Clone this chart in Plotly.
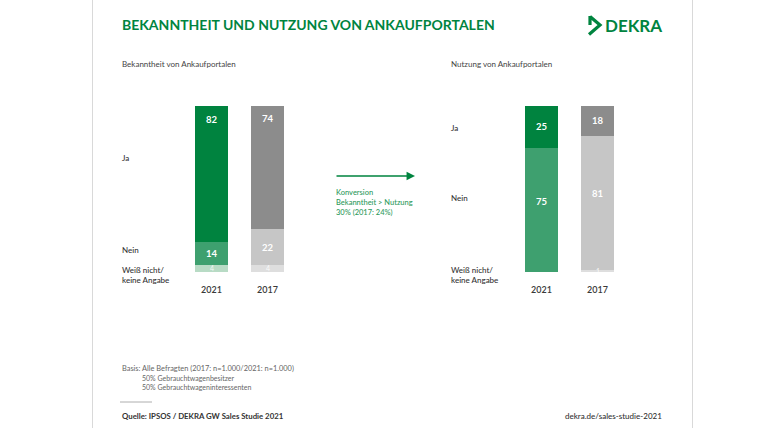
import plotly.graph_objects as go

W, H = 768, 428

years = ["2021", "2017"]
segments = ["Weiß nicht/keine Angabe", "Nein", "Ja"]

# Bekanntheit (left) values per segment [2021, 2017]
bek_weiss = [4, 4]
bek_nein = [14, 22]
bek_ja = [82, 74]

# Nutzung (right) values per segment [2021, 2017]
nut_weiss = [0, 1]
nut_nein = [75, 81]
nut_ja = [25, 18]

GREEN = "#00843F"
colors = {
    "Ja": ["#00833F", "#8C8C8C"],
    "Nein": ["#3EA06F", "#C6C6C6"],
    "Weiß nicht/keine Angabe": ["#B8DBC5", "#DEDEDE"],
}

FONT = "Lato"


def px(x):
    return x / W


def py(y):
    return 1 - y / H


fig = go.Figure()

charts = [
    ("x", "y", {"Weiß nicht/keine Angabe": bek_weiss, "Nein": bek_nein, "Ja": bek_ja}),
    ("x2", "y2", {"Weiß nicht/keine Angabe": nut_weiss, "Nein": nut_nein, "Ja": nut_ja}),
]

for xa, ya, data in charts:
    for seg in segments:
        fig.add_trace(go.Bar(
            x=years, y=data[seg], name=seg,
            marker=dict(color=colors[seg], line=dict(width=0)),
            xaxis=xa, yaxis=ya, showlegend=False, hoverinfo="skip",
        ))

# label vertical placement inside segments (fraction of segment measured from its bottom)
label_frac = {
    ("x", "Ja"): 0.9, ("x", "Nein"): 0.5, ("x", "Weiß nicht/keine Angabe"): 0.55,
    ("x2", "Ja"): 0.5, ("x2", "Nein"): 0.57, ("x2", "Weiß nicht/keine Angabe"): 0.6,
}
annotations = []
for xa, ya, data in charts:
    base = [0, 0]
    for seg in segments:
        vals = data[seg]
        for i, yr in enumerate(years):
            v = vals[i]
            if v > 0:
                small = v < 6
                annotations.append(dict(
                    x=i, y=base[i] + v * label_frac[(xa, seg)],
                    xref=xa, yref=ya, text=str(v), showarrow=False,
                    font=dict(family=FONT, size=7 if small else 9.5,
                              color="rgba(255,255,255,0.85)" if small else "white",
                              weight=400 if small else 700),
                ))
            base[i] += v


def txt(x, y, text, size=8, color="#3a3a3a", weight=400, xanchor="left"):
    annotations.append(dict(
        x=px(x), y=py(y), xref="paper", yref="paper", text=text,
        showarrow=False, xanchor=xanchor, yanchor="middle", align="left",
        font=dict(family=FONT, size=size, color=color, weight=weight),
    ))


# Title and logo text
txt(120, 24, "BEKANNTHEIT UND NUTZUNG VON ANKAUFPORTALEN", size=14, color=GREEN, weight=700)
txt(603, 25, "DEKRA", size=17, color=GREEN, weight=700)

# Subtitles
txt(120, 64, "Bekanntheit von Ankaufportalen", size=8, color="#444")
txt(449, 64, "Nutzung von Ankaufportalen", size=8, color="#444")

# Row labels left
txt(120, 158, "Ja", size=8, color="#333", weight=500)
txt(120, 250, "Nein", size=8, color="#333", weight=500)
txt(120, 275, "Weiß nicht/<br>keine Angabe", size=8, color="#333", weight=500)
# Row labels right
txt(449, 128, "Ja", size=8, color="#333", weight=500)
txt(449, 198, "Nein", size=8, color="#333", weight=500)
txt(449, 275, "Weiß nicht/<br>keine Angabe", size=8, color="#333", weight=500)

# Conversion text
txt(334, 202, "Konversion<br>Bekanntheit > Nutzung<br>30% (2017: 24%)", size=7.5, color="#2E9A5C", weight=500)

# Arrow
annotations.append(dict(
    x=px(415), y=py(176), xref="paper", yref="paper",
    ax=-80, ay=0, axref="pixel", ayref="pixel",
    text="", showarrow=True, arrowhead=2, arrowsize=1.3, arrowwidth=1.3,
    arrowcolor=GREEN,
))

# Footer
txt(120, 368, "Basis: Alle Befragten (2017: n=1.000/2021: n=1.000)", size=7.4, color="#666")
txt(140, 378, "50% Gebrauchtwagenbesitzer", size=7, color="#666")
txt(140, 387, "50% Gebrauchtwageninteressenten", size=7, color="#666")
txt(120, 416, "Quelle: IPSOS / DEKRA GW Sales Studie 2021", size=7.8, color="#333", weight=700)
txt(664, 416, "dekra.de/sales-studie-2021", size=8, color="#333", weight=500, xanchor="right")

shapes = [
    dict(type="line", xref="paper", yref="paper", x0=px(92.5), x1=px(92.5), y0=0, y1=1,
         line=dict(color="#D9D9D9", width=1)),
    dict(type="line", xref="paper", yref="paper", x0=px(692.5), x1=px(692.5), y0=0, y1=1,
         line=dict(color="#D9D9D9", width=1)),
    dict(type="line", xref="paper", yref="paper", x0=px(120), x1=px(152), y0=py(402), y1=py(402),
         line=dict(color="#999", width=0.8)),
    # DEKRA logo mark
    dict(type="path", xref="paper", yref="paper",
         path=f"M {px(590)},{py(16)} L {px(590)},{py(25)} M {px(590)},{py(16.5)} L {px(600)},{py(25)} L {px(589)},{py(34.5)}",
         line=dict(color=GREEN, width=3.2)),
]

xdom1 = [px(183.5), px(295.5)]
xdom2 = [px(513.5), px(625.5)]
ydom = [py(272), py(106)]

axis_common = dict(showgrid=False, zeroline=False, showline=False)
xcommon = dict(type="category", categoryorder="array", categoryarray=years, range=[-0.5, 1.5],
               ticks="", tickfont=dict(size=9, color="#3a3a3a", weight=600), ticklabelstandoff=11,
               **axis_common)
fig.update_layout(
    width=W, height=H, margin=dict(l=0, r=0, t=0, b=0),
    paper_bgcolor="white", plot_bgcolor="rgba(0,0,0,0)",
    barmode="stack", bargap=0.41,
    font=dict(family=FONT),
    xaxis=dict(domain=xdom1, anchor="y", **xcommon),
    yaxis=dict(domain=ydom, anchor="x", range=[0, 100], showticklabels=False, **axis_common),
    xaxis2=dict(domain=xdom2, anchor="y2", **xcommon),
    yaxis2=dict(domain=ydom, anchor="x2", range=[0, 100], showticklabels=False, **axis_common),
    annotations=annotations, shapes=shapes,
)

fig.write_html("out.html")
